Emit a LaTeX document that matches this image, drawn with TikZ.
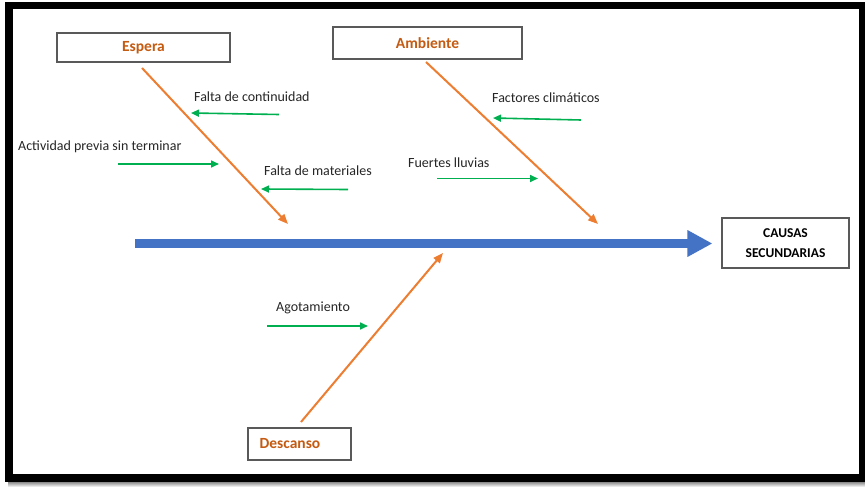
\documentclass[tikz,border=0pt]{standalone}
\usepackage{fontspec}
\setmainfont{Carlito}
\usetikzlibrary{arrows.meta}
\definecolor{spineblue}{HTML}{4472C4}
\definecolor{boneorange}{HTML}{ED7D31}
\definecolor{titleorange}{HTML}{C55A11}
\definecolor{causegreen}{RGB}{0,176,80}
\definecolor{boxgray}{HTML}{595959}
\tikzset{
  catbox/.style={draw=boxgray, line width=1.1pt, fill=white, inner sep=0pt,
    font=\fontsize{15.5}{18}\selectfont\bfseries, text=titleorange},
  effectbox/.style={draw=boxgray, line width=1.1pt, fill=white, inner sep=0pt,
    minimum width=127pt, minimum height=50pt, align=center,
    font=\fontsize{13.5}{19.5}\selectfont\bfseries, text=black},
  causetext/.style={inner sep=0pt, anchor=west, font=\fontsize{14}{16}\selectfont, text=black!85},
  bone/.style={draw=boneorange, line width=2pt, -{Triangle[length=10pt,width=8pt]}},
  subcause/.style={draw=causegreen, line width=1.6pt, -{Triangle[length=8pt,width=7pt]}},
  spine/.style={draw=spineblue, line width=9pt, -{Triangle[length=25pt,width=25pt]}}
}
\begin{document}
\begin{tikzpicture}[x=1pt,y=-1pt]
  \useasboundingbox (0,0) rectangle (865,487);
  % frame with a soft shadow under it
  \shade[top color=black!45, bottom color=white] (8,482) rectangle (865,487);
  \fill[black] (5,2) rectangle (865,482);
  \fill[white] (13,9) rectangle (859,474);

  % effect and category boxes
  \node[effectbox] (effect) at (785.5,243) {CAUSAS\\SECUNDARIAS};
  \node[catbox, minimum width=173pt, minimum height=29pt] (espera) at (143.5,47.5) {Espera};
  \node[catbox, minimum width=189pt, minimum height=32pt] (ambiente) at (427.5,43) {Ambiente};
  \node[catbox, minimum width=103pt, minimum height=32pt] (descanso) at (299.5,444) {\hspace*{-19pt}Descanso};

  % spine
  \coordinate (tail) at (135,243.5);
  \draw[spine, shorten >=9pt] (tail) -- (effect.west |- tail);

  % main bones
  \coordinate (esperaStart) at (142,68);
  \coordinate (esperaEnd) at (288,224);
  \coordinate (ambienteStart) at (426,62);
  \coordinate (ambienteEnd) at (598,224);
  \coordinate (descansoStart) at (301,422);
  \coordinate (descansoEnd) at (443,253);
  \draw[bone] (esperaStart) -- (esperaEnd);
  \draw[bone] (ambienteStart) -- (ambienteEnd);
  \draw[bone] (descansoStart) -- (descansoEnd);

  % sub-causes
  \node[causetext] (t1) at (194,97) {Falta de continuidad};
  \coordinate (a1s) at (279,114.5); \coordinate (a1e) at (191,113);
  \draw[subcause] (a1s) -- (a1e);

  \node[causetext] (t2) at (18,147) {Actividad previa sin terminar};
  \coordinate (a2s) at (118,164); \coordinate (a2e) at (219,164);
  \draw[subcause] (a2s) -- (a2e);

  \node[causetext] (t3) at (264,171) {Falta de materiales};
  \coordinate (a3s) at (348,189.5); \coordinate (a3e) at (261,189);
  \draw[subcause] (a3s) -- (a3e);

  \node[causetext] (t4) at (492,98) {Factores climáticos};
  \coordinate (a4s) at (581,120); \coordinate (a4e) at (493,118);
  \draw[subcause] (a4s) -- (a4e);

  \node[causetext] (t5) at (408,163) {Fuertes lluvias};
  \coordinate (a5s) at (437,178.5); \coordinate (a5e) at (538,178.5);
  \draw[subcause] (a5s) -- (a5e);

  \node[causetext] (t6) at (276,308) {Agotamiento};
  \coordinate (a6s) at (267,326); \coordinate (a6e) at (368,326);
  \draw[subcause] (a6s) -- (a6e);
\end{tikzpicture}
\end{document}
